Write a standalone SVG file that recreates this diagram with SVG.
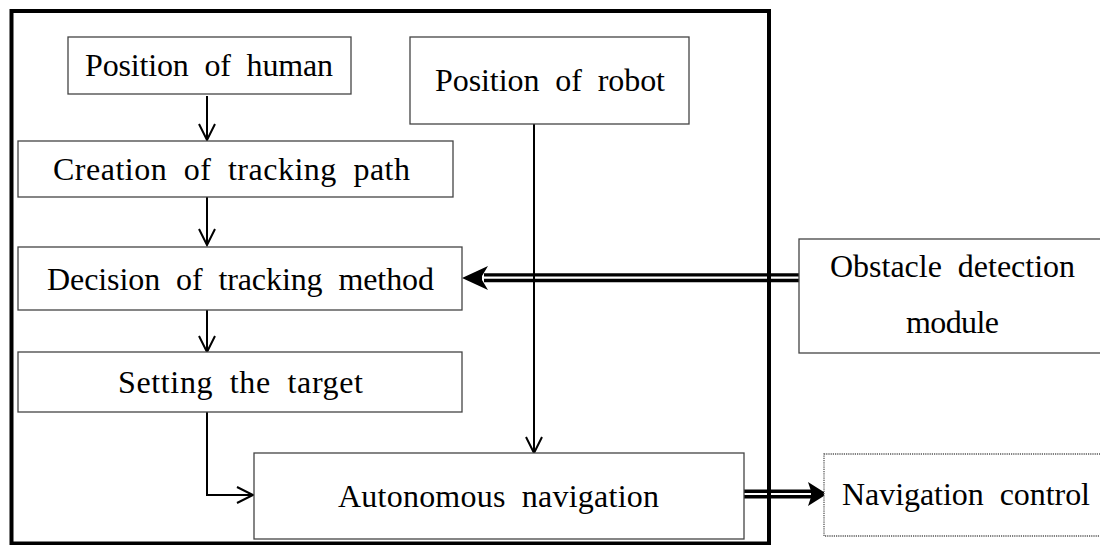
<svg xmlns="http://www.w3.org/2000/svg" width="1100" height="545" viewBox="0 0 1100 545">
<style>
.box{fill:#fff;stroke:#444;stroke-width:1.3}
.dot{fill:#fff;stroke:#555;stroke-width:1.3;stroke-dasharray:1.2 1}
.t{font-family:"Liberation Serif","Times New Roman",serif;font-size:32px;fill:#000;word-spacing:8px}
.c{fill:none;stroke:#000;stroke-width:2}
.dbo{stroke:#000;stroke-width:9;fill:none}
.dbi{stroke:#fff;stroke-width:2.2;fill:none}
</style>
<defs>
<marker id="v" markerUnits="userSpaceOnUse" markerWidth="20" markerHeight="20" refX="16" refY="8" orient="auto" overflow="visible">
<path d="M0,0 L16,8 L0,16" fill="none" stroke="#000" stroke-width="2"/>
</marker>
</defs>
<rect x="0" y="0" width="1100" height="545" fill="#fff"/>
<g id="connectors">
<line class="c" x1="207" y1="96" x2="207" y2="140" marker-end="url(#v)"/>
<line class="c" x1="207" y1="197" x2="207" y2="245" marker-end="url(#v)"/>
<line class="c" x1="207" y1="304" x2="207" y2="352" marker-end="url(#v)"/>
<polyline class="c" points="207,412 207,495 253,495" marker-end="url(#v)"/>
<line class="dbo" x1="799" y1="277.7" x2="484" y2="277.7"/>
<line class="dbi" x1="799" y1="277.7" x2="484" y2="277.7"/>
<polygon points="462,278 488,266 482,276 482,280 488,290" fill="#000"/>
<line class="dbo" x1="744" y1="494" x2="812" y2="494"/>
<line class="dbi" x1="744" y1="494" x2="812" y2="494"/>
<polygon points="827,494 808,482 811,491 811,497 808,506" fill="#000"/>
<line class="c" x1="534" y1="118" x2="534" y2="453" marker-end="url(#v)"/>
</g>
<g id="frame">
<rect x="11.5" y="11" width="757.5" height="532.5" fill="none" stroke="#000" stroke-width="4"/>
</g>
<g id="n-human">
<rect class="box" x="68" y="37" width="283" height="57"/>
<text class="t" x="85" y="76" textLength="248">Position of human</text>
</g>
<g id="n-robot">
<rect class="box" x="410" y="37" width="279" height="87"/>
<text class="t" x="435" y="91" textLength="230">Position of robot</text>
</g>
<g id="n-path">
<rect class="box" x="18" y="141" width="435" height="56"/>
<text class="t" x="53" y="180" textLength="357">Creation of tracking path</text>
</g>
<g id="n-method">
<rect class="box" x="18" y="247" width="444" height="63"/>
<text class="t" x="47" y="290" textLength="387">Decision of tracking method</text>
</g>
<g id="n-target">
<rect class="box" x="18" y="352" width="444" height="60"/>
<text class="t" x="118" y="393" textLength="245">Setting the target</text>
</g>
<g id="n-auto">
<rect class="box" x="254" y="453" width="490" height="86"/>
<text class="t" x="338" y="507" textLength="321">Autonomous navigation</text>
</g>
<g id="n-obstacle">
<rect class="box" x="799" y="239" width="320" height="114"/>
<text class="t" x="830" y="277" textLength="245">Obstacle detection</text>
<text class="t" x="906" y="333" textLength="93">module</text>
</g>
<g id="n-navctl">
<rect class="dot" x="824" y="454" width="300" height="82"/>
<text class="t" x="842" y="505" textLength="248">Navigation control</text>
</g>
</svg>
